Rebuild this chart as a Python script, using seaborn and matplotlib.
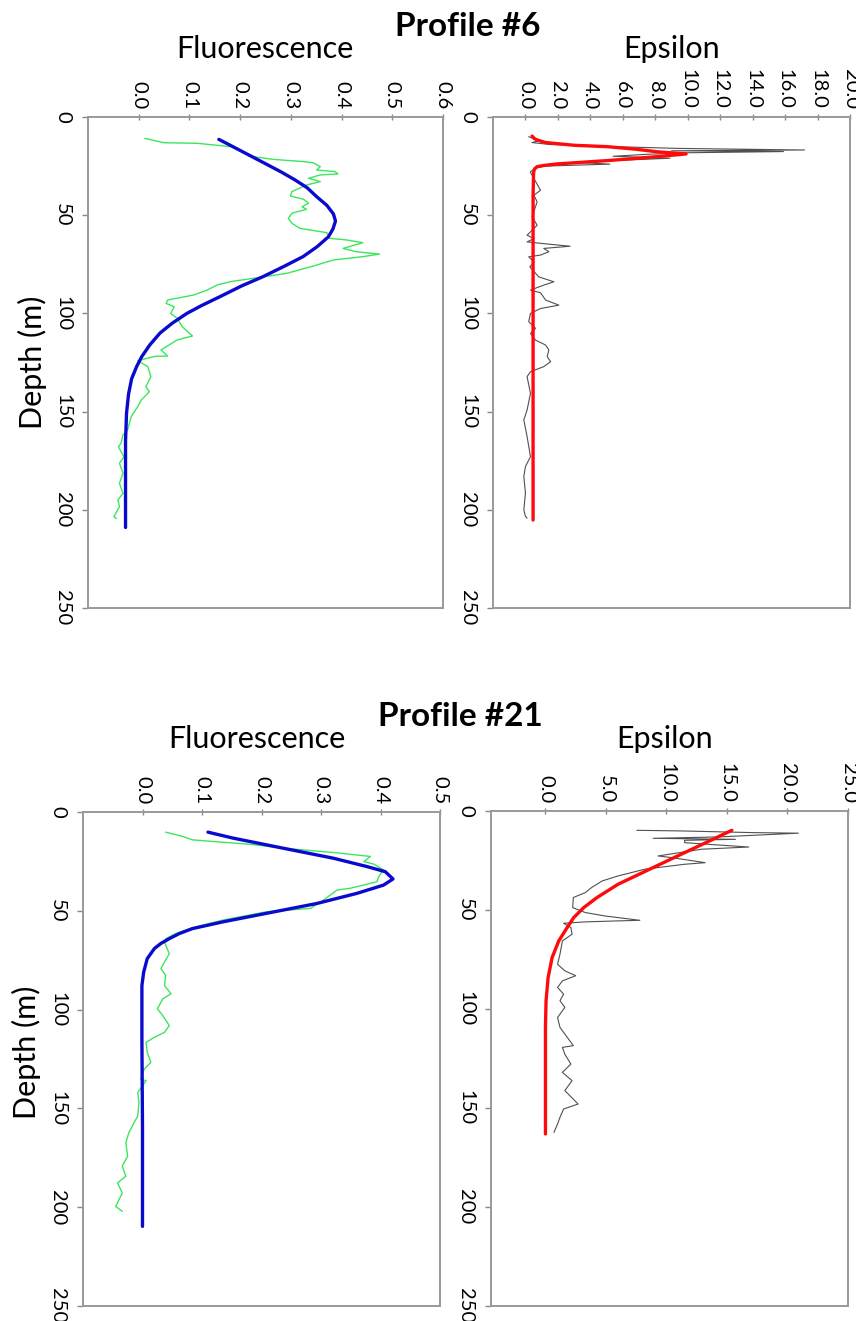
import matplotlib
matplotlib.use("Agg")
import matplotlib.pyplot as plt
import seaborn as sns

# ---- Profile #6, fluorescence (raw = green, fit = blue) ----
p6_fluo_depth = [10.9, 13.1, 13.4, 15.1, 20.2, 21.6, 22.7, 23.3, 25.3, 27.0, 27.8, 29.0, 29.5,
                 31.2, 32.9, 34.6, 38.0, 40.2, 41.9, 43.9, 45.7, 47.0, 49.0, 51.6, 54.1, 56.7,
                 58.9, 61.8, 62.6, 64.0, 66.9, 68.6, 69.8, 71.1, 72.8, 75.9, 79.6, 82.1, 83.8,
                 85.5, 88.1, 90.6, 93.2, 94.9, 96.6, 100.0, 102.5, 106.8, 111.5, 113.5, 118.6,
                 121.7, 121.9, 124.1, 127.1, 132.2, 137.3, 139.9, 144.1, 147.5, 152.6, 159.4,
                 161.9, 166.2, 167.9, 173.0, 176.3, 181.4, 186.5, 191.6, 195.0, 198.4, 203.5, 204.4]
p6_fluo_raw = [0.012, 0.050, 0.116, 0.181, 0.227, 0.266, 0.325, 0.344, 0.358, 0.351, 0.387, 0.393,
               0.358, 0.335, 0.358, 0.331, 0.302, 0.299, 0.325, 0.335, 0.322, 0.331, 0.302, 0.295,
               0.302, 0.318, 0.371, 0.377, 0.410, 0.442, 0.403, 0.429, 0.475, 0.442, 0.384, 0.344,
               0.292, 0.227, 0.181, 0.155, 0.135, 0.109, 0.057, 0.054, 0.070, 0.063, 0.076, 0.086,
               0.106, 0.076, 0.044, 0.057, 0.031, -0.002, 0.018, 0.024, 0.014, 0.021, 0.005, -0.002,
               -0.015, -0.022, -0.031, -0.035, -0.040, -0.029, -0.038, -0.031, -0.038, -0.031,
               -0.041, -0.038, -0.049, -0.044]
p6_fluo_fit_depth = [11.4, 15.0, 20.0, 25.0, 28.0, 32.0, 36.0, 40.6, 45.0, 49.4, 53.0, 57.0, 61.0,
                     66.0, 71.1, 76.0, 81.3, 86.0, 91.5, 96.0, 100.0, 105.0, 110.0, 116.0, 122.0,
                     127.0, 133.3, 141.0, 150.7, 165.0, 185.0, 209.0]
p6_fluo_fit = [0.158, 0.185, 0.222, 0.259, 0.281, 0.308, 0.332, 0.351, 0.371, 0.384, 0.388, 0.383,
               0.374, 0.352, 0.324, 0.287, 0.245, 0.203, 0.160, 0.124, 0.095, 0.066, 0.042, 0.022,
               0.006, -0.004, -0.014, -0.020, -0.024, -0.026, -0.026, -0.026]

# ---- Profile #6, epsilon (raw = grey, fit = red) ----
p6_eps_depth = [10.0, 11.0, 12.0, 13.0, 14.0, 15.0, 16.0, 16.8, 17.2, 17.6, 18.2, 19.0, 20.0, 21.0,
                22.0, 23.0, 24.0, 25.0, 26.0, 28.0, 29.7, 37.3, 39.8, 43.2, 50.8, 55.1, 60.2, 61.9,
                63.6, 64.4, 65.8, 66.9, 68.6, 70.3, 71.2, 73.7, 76.3, 81.4, 83.9, 85.6, 88.1, 89.5,
                93.2, 95.8, 97.5, 100.0, 104.2, 107.6, 110.2, 113.6, 116.1, 118.6, 122.0, 124.6,
                127.1, 129.7, 132.2, 140.7, 149.2, 154.2, 162.7, 172.9, 178.0, 183.0, 191.5, 200.0,
                203.4, 204.2]
p6_eps_raw = [0.2, 0.5, 0.9, 0.4, 1.5, 5.0, 9.5, 17.2, 9.0, 15.9, 10.0, 7.5, 5.4, 8.9, 6.0, 3.0, 5.2,
              1.2, 0.6, 0.3, 0.41, 0.93, 0.52, 0.72, 0.41, 0.72, 0.10, 0.52, 0.10, 1.03, 2.75, 1.13,
              1.44, 0.93, 0.20, 0.52, 0.27, 0.82, 1.75, 1.13, 0.31, 0.93, 1.24, 2.06, 0.93, 0.31,
              0.20, 0.62, 0.31, 0.62, 1.24, 1.44, 1.34, 1.55, 1.13, 0.31, 0.10, 0.31, 0.10, -0.10,
              0.10, 0.31, 0.0, -0.10, 0.0, -0.10, 0.0, 0.10]
p6_eps_fit_depth = [9.7, 11.0, 11.7, 13.0, 14.4, 15.1, 16.4, 17.7, 18.8, 20.2, 21.2, 22.2, 23.1,
                    23.9, 24.7, 25.3, 26.5, 28.5, 40.0, 100.0, 205.2]
p6_eps_fit = [0.41, 0.55, 0.72, 1.24, 3.0, 5.03, 6.8, 8.1, 9.9, 8.1, 6.6, 5.03, 3.4, 1.95, 1.1,
              0.72, 0.55, 0.50, 0.47, 0.47, 0.47]

# ---- Profile #21, fluorescence ----
p21_fluo_depth = [10.2, 12.4, 14.1, 15.3, 16.3, 18.3, 20.5, 22.5, 25.1, 26.4, 29.3, 32.7, 35.3,
                  38.6, 39.5, 44.6, 48.8, 50.5, 54.7, 58.6, 61.5, 64.1, 66.6, 71.7, 75.9, 79.3,
                  82.7, 87.8, 92.0, 94.6, 99.6, 103.0, 108.1, 111.5, 114.0, 116.6, 121.6, 126.7,
                  130.1, 135.2, 136.0, 142.0, 147.1, 153.8, 162.3, 167.4, 174.2, 179.2, 184.3,
                  187.7, 192.8, 199.6, 202.1]
p21_fluo_raw = [0.039, 0.068, 0.084, 0.135, 0.180, 0.236, 0.321, 0.383, 0.372, 0.389, 0.405, 0.397,
                0.394, 0.349, 0.327, 0.304, 0.282, 0.208, 0.135, 0.084, 0.056, 0.039, 0.038, 0.045,
                0.037, 0.031, 0.039, 0.037, 0.048, 0.034, 0.025, 0.034, 0.045, 0.037, 0.020, 0.006,
                0.008, 0.014, 0.003, -0.003, 0.006, -0.008, -0.006, -0.008, -0.023, -0.028, -0.025,
                -0.034, -0.028, -0.042, -0.034, -0.045, -0.034]
p21_fluo_fit_depth = [10.2, 13.2, 18.3, 23.4, 27.6, 30.2, 33.9, 37.0, 41.2, 46.3, 51.3, 55.6, 59.0,
                      61.5, 64.1, 66.5, 69.1, 74.2, 81.0, 87.8, 114.9, 160.0, 209.7]
p21_fluo_fit = [0.110, 0.152, 0.236, 0.321, 0.377, 0.408, 0.421, 0.405, 0.360, 0.293, 0.208, 0.135,
                0.084, 0.062, 0.045, 0.031, 0.020, 0.008, 0.002, -0.001, -0.001, 0.0, 0.0]

# ---- Profile #21, epsilon ----
p21_eps_depth = [9.75, 10.1, 10.9, 11.2, 13.1, 13.8, 14.3, 14.8, 16.0, 18.2, 19.3, 22.7, 23.5, 26.1,
                 26.9, 29.4, 32.8, 35.3, 38.7, 41.2, 43.7, 48.8, 51.3, 53.0, 55.2, 55.5, 56.0, 56.7,
                 58.9, 62.2, 65.6, 72.3, 77.4, 80.7, 83.2, 85.8, 89.1, 92.5, 95.8, 99.2, 104.3,
                 109.3, 114.3, 118.5, 119.4, 122.8, 127.8, 132.0, 136.2, 141.2, 148.0, 150.5,
                 154.7, 158.1, 162.3]
p21_eps_raw = [7.55, 11.5, 17.0, 20.9, 14.3, 8.9, 15.7, 11.5, 11.5, 16.8, 12.9, 9.3, 10.4, 13.2,
               11.5, 8.2, 6.0, 4.7, 3.8, 3.3, 2.3, 2.25, 3.3, 4.9, 7.8, 6.0, 3.3, 1.5, 2.1, 2.2, 1.4,
               1.2, 1.0, 1.6, 2.5, 1.4, 1.0, 1.5, 1.2, 1.6, 1.0, 1.2, 1.8, 2.3, 1.4, 1.6, 2.1, 1.4,
               2.2, 1.6, 2.7, 1.5, 1.2, 1.0, 0.7]
p21_eps_fit_depth = [9.75, 17.0, 24.2, 30.6, 37.0, 43.7, 48.8, 53.8, 58.9, 65.6, 74.0, 84.1, 95.8,
                     109.3, 163.1]
p21_eps_fit = [15.4, 12.9, 10.4, 8.2, 6.0, 4.26, 3.16, 2.34, 1.79, 1.10, 0.55, 0.22, 0.05, 0.0, 0.0]

depth_ticks = [0, 50, 100, 150, 200, 250]

W, H = 856, 1321
FONT = ["Lato", "DejaVu Sans"]

sns.set_style("white")
plt.rcParams["font.family"] = FONT
plt.rcParams["text.color"] = "black"
plt.rcParams["xtick.color"] = "black"
plt.rcParams["ytick.color"] = "black"

fig = plt.figure(figsize=(W / 100, H / 100), dpi=100)


def panel(left, top, right, bottom):
    return fig.add_axes([left / W, 1 - bottom / H, (right - left) / W, (bottom - top) / H])


def style(ax, xlim, xticks, fmt):
    ax.set_xlim(*xlim)
    ax.set_ylim(250, 0)
    ax.set_xticks(xticks)
    ax.set_xticklabels([fmt.format(t) for t in xticks])
    ax.set_yticks(depth_ticks)
    ax.set_yticklabels([str(t) for t in depth_ticks])
    ax.xaxis.tick_top()
    ax.tick_params(axis="x", top=True, bottom=False, direction="inout", length=5, width=1,
                   color="#888888", labelcolor="black", labelsize=14.5, labelrotation=-90, pad=3)
    ax.tick_params(axis="y", left=True, direction="out", length=4, width=1,
                   color="#888888", labelcolor="black", labelsize=14.5, labelrotation=-90, pad=8)
    for lab in ax.get_yticklabels():
        lab.set_verticalalignment("center")
    for sp in ax.spines.values():
        sp.set_visible(True)
        sp.set_color("#999999")
        sp.set_linewidth(1.4)
    ax.set_xlabel("")
    ax.set_ylabel("")
    ax.grid(False)


GREEN, BLUE, GREY, RED = "#3CE65C", "#0A0ACF", "#505050", "#FF0A0A"

ax1 = panel(88, 117, 443, 608)
sns.lineplot(x=p6_fluo_raw, y=p6_fluo_depth, sort=False, estimator=None, color=GREEN, lw=1.0, ax=ax1)
sns.lineplot(x=p6_fluo_fit, y=p6_fluo_fit_depth, sort=False, estimator=None, color=BLUE, lw=2.4, ax=ax1)
style(ax1, (-0.1, 0.6), [0.0, 0.1, 0.2, 0.3, 0.4, 0.5, 0.6], "{:.1f}")

ax2 = panel(493, 117, 850, 608)
sns.lineplot(x=p6_eps_raw, y=p6_eps_depth, sort=False, estimator=None, color=GREY, lw=0.8, ax=ax2)
sns.lineplot(x=p6_eps_fit, y=p6_eps_fit_depth, sort=False, estimator=None, color=RED, lw=2.4, ax=ax2)
style(ax2, (-2.0, 20.0), [0, 2, 4, 6, 8, 10, 12, 14, 16, 18, 20], "{:.1f}")

ax3 = panel(83, 812, 440, 1306)
sns.lineplot(x=p21_fluo_raw, y=p21_fluo_depth, sort=False, estimator=None, color=GREEN, lw=1.0, ax=ax3)
sns.lineplot(x=p21_fluo_fit, y=p21_fluo_fit_depth, sort=False, estimator=None, color=BLUE, lw=2.4, ax=ax3)
style(ax3, (-0.1, 0.5), [0.0, 0.1, 0.2, 0.3, 0.4, 0.5], "{:.1f}")

ax4 = panel(491, 811, 848, 1306)
sns.lineplot(x=p21_eps_raw, y=p21_eps_depth, sort=False, estimator=None, color=GREY, lw=0.8, ax=ax4)
sns.lineplot(x=p21_eps_fit, y=p21_eps_fit_depth, sort=False, estimator=None, color=RED, lw=2.4, ax=ax4)
style(ax4, (-4.5, 25.0), [0, 5, 10, 15, 20, 25], "{:.1f}")


def label(x, y, s, **kw):
    fig.text(x / W, 1 - y / H, s, ha="center", family=FONT, color="black", **kw)


label(468, 36, "Profile #6", va="baseline", fontsize=24, fontweight="bold")
label(265, 58, "Fluorescence", va="baseline", fontsize=22)
label(672, 58, "Epsilon", va="baseline", fontsize=22)
label(460, 726, "Profile #21", va="baseline", fontsize=24, fontweight="bold")
label(257, 748, "Fluorescence", va="baseline", fontsize=22)
label(665, 748, "Epsilon", va="baseline", fontsize=22)
label(32, 362, "Depth (m)", va="center", fontsize=22, rotation=90)
label(26, 1052, "Depth (m)", va="center", fontsize=22, rotation=90)

fig.savefig("out.png", dpi=100, facecolor="white")
